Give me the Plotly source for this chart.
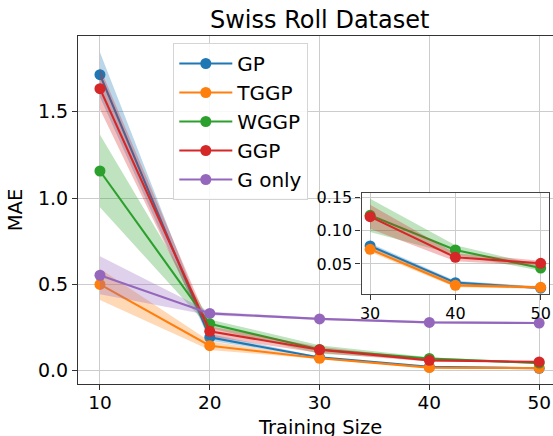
import plotly.graph_objects as go

# Mean absolute error vs. training size on the Swiss roll data (mean ± std over runs)
training_size = [10, 20, 30, 40, 50]
methods = ["GP", "TGGP", "WGGP", "GGP", "G only"]
colors = ["#1f77b4", "#ff7f0e", "#2ca02c", "#d62728", "#9467bd"]

mae_gp = [1.715, 0.193, 0.077, 0.022, 0.014]
mae_tggp = [0.500, 0.145, 0.072, 0.018, 0.015]
mae_wggp = [1.157, 0.272, 0.123, 0.071, 0.044]
mae_ggp = [1.634, 0.228, 0.121, 0.060, 0.051]
mae_gonly = [0.553, 0.332, 0.300, 0.280, 0.276]

std_gp = [0.13, 0.020, 0.004, 0.003, 0.002]
std_tggp = [0.09, 0.025, 0.004, 0.003, 0.002]
std_wggp = [0.21, 0.025, 0.025, 0.007, 0.004]
std_ggp = [0.12, 0.030, 0.018, 0.006, 0.004]
std_gonly = [0.11, 0.010, 0.006, 0.006, 0.006]

means = [mae_gp, mae_tggp, mae_wggp, mae_ggp, mae_gonly]
stds = [std_gp, std_tggp, std_wggp, std_ggp, std_gonly]

# the zoomed panel covers the larger training sizes for the four GP variants
inset_start = 2
inset_methods = 4

W, H = 553, 436
ML, MR, MT, MB = 78, 0, 36, 52
PLOT_W, PLOT_H = W - ML - MR, H - MT - MB
FONT = "DejaVu Sans"


def rgba(hex_color, a):
    h = hex_color.lstrip("#")
    r, g, b = int(h[0:2], 16), int(h[2:4], 16), int(h[4:6], 16)
    return f"rgba({r},{g},{b},{a})"


fig = go.Figure()


def add_series(xs, mean, std, color, name, xa, ya, legend):
    upper = [m + s for m, s in zip(mean, std)]
    lower = [m - s for m, s in zip(mean, std)]
    fig.add_trace(go.Scatter(x=xs, y=upper, mode="lines", line=dict(width=0, color=color),
                             showlegend=False, hoverinfo="skip", xaxis=xa, yaxis=ya))
    fig.add_trace(go.Scatter(x=xs, y=lower, mode="lines", line=dict(width=0, color=color),
                             fill="tonexty", fillcolor=rgba(color, 0.3),
                             showlegend=False, hoverinfo="skip", xaxis=xa, yaxis=ya))
    fig.add_trace(go.Scatter(x=xs, y=mean, mode="lines+markers", name=name,
                             line=dict(color=color, width=2.1),
                             marker=dict(color=color, size=11),
                             showlegend=legend, xaxis=xa, yaxis=ya))


for name, color, m, s in zip(methods, colors, means, stds):
    add_series(training_size, m, s, color, name, "x", "y", True)

for name, color, m, s in list(zip(methods, colors, means, stds))[:inset_methods]:
    add_series(training_size[inset_start:], m[inset_start:], s[inset_start:],
               color, name, "x2", "y2", False)

# white backing for the inset panel so the main grid does not show through
fig.add_shape(type="rect", xref="x2 domain", yref="y2 domain", x0=0, x1=1, y0=0, y1=1,
              fillcolor="white", line=dict(width=0), layer="below")

# x-axis title sits low under the tick labels and runs off the page edge
fig.add_annotation(text="Training Size", xref="paper", yref="paper",
                   x=(319.7 - ML) / PLOT_W, y=-(414 - (H - MB)) / PLOT_H,
                   xanchor="center", yanchor="top", showarrow=False,
                   font=dict(size=19.5, family=FONT, color="black"))

grid = "#cccccc"
axis_common = dict(showgrid=True, gridcolor=grid, gridwidth=1.1, zeroline=False,
                   ticks="outside", ticklen=5, tickwidth=1, tickcolor="#333333",
                   showline=True, linecolor="#333333", linewidth=1, automargin=False)

inset_axis = {**axis_common, "linecolor": "#444444", "linewidth": 1.3}

fig.update_layout(
    width=W, height=H,
    margin=dict(l=ML, r=MR, t=MT, b=MB),
    paper_bgcolor="white", plot_bgcolor="white",
    font=dict(family=FONT, color="black", size=18.5),
    title=dict(text="Swiss Roll Dataset", font=dict(size=24), x=319.7 / W,
               xanchor="center", y=1 - 28 / H, yanchor="bottom", pad=dict(b=0)),
    xaxis=dict(range=[8, 8 + PLOT_W / 10.98], tickvals=training_size,
               mirror=True, tickfont=dict(size=18.5), ticklabelstandoff=-3, **axis_common),
    yaxis=dict(range=[-0.077, 1.939], tickvals=[0.0, 0.5, 1.0, 1.5],
               ticktext=["0.0", "0.5", "1.0", "1.5"],
               title=dict(text="MAE", font=dict(size=19.5), standoff=10),
               tickfont=dict(size=19), **axis_common),
    xaxis2=dict(domain=[0.597, 0.992], anchor="y2", range=[29, 51], tickvals=[30, 40, 50],
                tickfont=dict(size=16), mirror=True, **inset_axis),
    yaxis2=dict(domain=[0.2586, 0.548], anchor="x2", range=[0.005, 0.156],
                tickvals=[0.05, 0.10, 0.15], ticktext=["0.05", "0.10", "0.15"],
                tickfont=dict(size=16), mirror=True, **inset_axis),
    legend=dict(x=(173.3 - ML) / PLOT_W, y=(H - MB - 43) / PLOT_H,
                xanchor="left", yanchor="top", bgcolor="rgba(255,255,255,0.85)",
                bordercolor="#d5d5d5", borderwidth=1, font=dict(size=20),
                itemwidth=53, tracegroupgap=0, traceorder="normal"),
    showlegend=True,
)

fig.write_html("out.html")
